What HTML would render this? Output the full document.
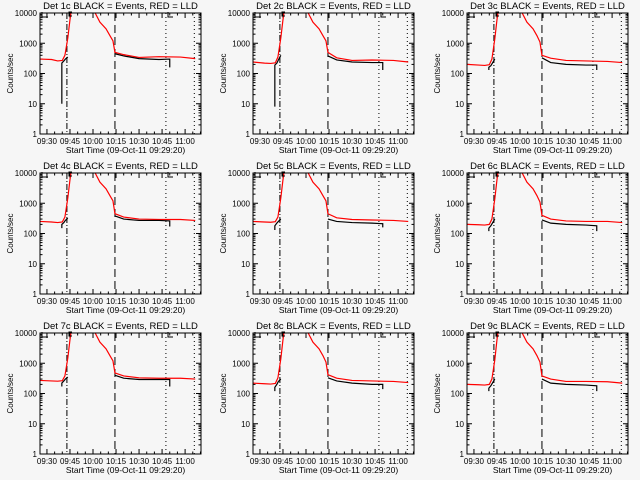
<!DOCTYPE html>
<html><head><meta charset="utf-8"><style>
html,body{margin:0;padding:0;background:#f6f6f6;}
svg{display:block;font-family:"Liberation Sans",sans-serif;}
</style></head><body>
<svg id="chart" width="640" height="480" viewBox="0 0 640 480"></svg>
<script>
const detNames = ["1c","2c","3c","4c","5c","6c","7c","8c","9c"];
const tickLabels = ["09:30","09:45","10:00","10:15","10:30","10:45","11:00"];
const tickMinutes = [0,15,30,45,60,75,90];
const yTickLabels = ["1","10","100","1000","10000"];
const yTickValues = [1,10,100,1000,10000];
const redT = [-4.5,3,7,10,11.7,13.6,15,16.5,30.6,34.5,38.5,41,43,44.3,50,60,73,87,96.6];
const red1 = [300,290,260,270,400,1500,6000,20000,12000,5000,3000,1800,1200,500,420,340,360,350,310];
const red2 = [240,220,215,225,350,1500,6000,20000,12000,5000,3000,1800,1200,500,330,270,280,270,240];
const red3 = [200,190,185,195,300,1400,6000,20000,12000,5000,3000,1800,1100,400,320,270,260,250,230];
const red4 = [250,240,230,240,350,1500,6000,20000,12000,5000,3000,1800,1200,450,350,300,290,290,270];
const red5 = [250,240,235,245,350,1500,6000,20000,12000,5000,3000,1800,1200,450,330,290,280,270,250];
const red6 = [200,195,190,200,300,1400,6000,20000,12000,5000,3000,1800,1100,400,300,260,250,250,230];
const red7 = [270,260,255,265,380,1500,6000,20000,12000,5000,3000,1800,1200,480,380,330,320,320,300];
const red8 = [220,210,205,215,330,1400,6000,20000,12000,5000,3000,1800,1100,420,320,270,260,250,230];
const red9 = [200,195,190,200,300,1300,6000,20000,12000,5000,3000,1800,1100,380,300,250,250,245,220];
const blackT1 = [9.7,9.7,11,12,13.6];
const blackT2 = [44.3,50,60,73,80,80];
const bPre1 = [10,220,260,300,350];
const bPre2 = [8,190,220,280,400];
const bPre3 = [130,160,180,220,300];
const bPre4 = [150,200,230,270,320];
const bPre5 = [130,180,220,250,300];
const bPre6 = [120,150,180,220,300];
const bPre7 = [170,220,260,300,350];
const bPre8 = [120,160,200,250,300];
const bPre9 = [120,150,180,220,300];
const bPost1 = [450,380,310,290,300,160];
const bPost2 = [380,280,240,230,230,130];
const bPost3 = [330,230,200,190,190,130];
const bPost4 = [380,300,270,270,260,170];
const bPost5 = [300,250,230,220,210,160];
const bPost6 = [280,220,200,190,180,120];
const bPost7 = [400,320,290,290,290,170];
const bPost8 = [330,260,220,200,200,140];
const bPost9 = [300,220,200,190,180,120];
const reds = [red1,red2,red3,red4,red5,red6,red7,red8,red9];
const bPres = [bPre1,bPre2,bPre3,bPre4,bPre5,bPre6,bPre7,bPre8,bPre9];
const bPosts = [bPost1,bPost2,bPost3,bPost4,bPost5,bPost6,bPost7,bPost8,bPost9];
const markerMinutes = [13,44.3,77.5,96];
const markerDash = ["6,2,1,2","8,4","1,3","1,3"];

const NS = "http://www.w3.org/2000/svg";
const svg = document.getElementById("chart");
function mk(tag, attrs, parent){const e=document.createElementNS(NS,tag);for(const k in attrs)e.setAttribute(k,attrs[k]);(parent||svg).appendChild(e);return e;}

for(let p=0;p<9;p++){
  const ox = Math.round((p%3)*213.33), oy=Math.floor(p/3)*160;
  const L=ox+40,R=ox+201,T=oy+13,B=oy+134;
  const xs = t => ox + 93 + (t-30)*1.535;
  const ys = v => B - (Math.log10(v))*(B-T)/4;
  const g = mk("g",{});
  
  
  const cid="clip"+p;
  const cp=mk("clipPath",{id:cid},g); mk("rect",{x:L,y:T,width:R-L,height:B-T},cp);
  const title=mk("text",{x:(L+R)/2,y:oy+9,"text-anchor":"middle","font-size":"9.5"},g);
  title.textContent="Det "+detNames[p]+" BLACK = Events, RED = LLD";
  
  
  const yl=mk("text",{x:0,y:0,"text-anchor":"middle","font-size":"8",transform:"translate("+(ox+13)+","+((T+B)/2)+") rotate(-90)"},g);
  yl.textContent="Counts/sec";
  
  
  const xl=mk("text",{x:(L+R)/2+5,y:oy+153,"text-anchor":"middle","font-size":"8.5"},g);
  xl.textContent="Start Time (09-Oct-11 09:29:20)";
  
  
  // y ticks
  yTickValues.forEach((v,i)=>{
    const y=ys(v);
    mk("line",{x1:L,x2:L+5,y1:y,y2:y,stroke:"#000"},g);
    mk("line",{x1:R,x2:R-5,y1:y,y2:y,stroke:"#000"},g);
    const t=mk("text",{x:L-3,y:y+3,"text-anchor":"end","font-size":"8"},g);
    t.textContent=yTickLabels[i];
    
    
    if(i<4){for(let m=2;m<10;m++){const yy=ys(v*m);
      mk("line",{x1:L,x2:L+2.5,y1:yy,y2:yy,stroke:"#000"},g);
      mk("line",{x1:R,x2:R-2.5,y1:yy,y2:yy,stroke:"#000"},g);}}
  });
  tickMinutes.forEach((m,i)=>{
    const x=xs(m);
    mk("line",{x1:x,x2:x,y1:B,y2:B-5,stroke:"#000"},g);
    mk("line",{x1:x,x2:x,y1:T,y2:T+5,stroke:"#000"},g);
    for(let k=1;k<3;k++){const xx=xs(m+k*5);if(xx<R){mk("line",{x1:xx,x2:xx,y1:B,y2:B-2.5,stroke:"#000"},g);mk("line",{x1:xx,x2:xx,y1:T,y2:T+2.5,stroke:"#000"},g);}}
    const t=mk("text",{x:x,y:B+10,"text-anchor":"middle","font-size":"8"},g);
    t.textContent=tickLabels[i];
    
    
  });
  const cg=mk("g",{"clip-path":"url(#"+cid+")"},g);
  markerMinutes.forEach((m,i)=>{
    const ln=mk("line",{x1:xs(m),x2:xs(m),y1:T,y2:B,stroke:"#000","stroke-dasharray":markerDash[i]},cg);
    
    
  });
  const rp=mk("polyline",{points:redT.map((t,i)=>xs(t)+","+ys(reds[p][i])).join(" "),fill:"none",stroke:"#ff0000","stroke-width":"1.2"},cg);
  
  
  const b1=mk("polyline",{points:blackT1.map((t,i)=>xs(t)+","+ys(bPres[p][i])).join(" "),fill:"none",stroke:"#000","stroke-width":"1.2"},cg);
  
  
  const b2=mk("polyline",{points:blackT2.map((t,i)=>xs(t)+","+ys(bPosts[p][i])).join(" "),fill:"none",stroke:"#000","stroke-width":"1.2"},cg);
  
  
  // bracket markers
  mk("polyline",{points:(L+2)+","+(T+5)+" "+(L+2)+","+(T)+" M",fill:"none",stroke:"#000"},g);
  mk("path",{d:"M"+(L+8)+" "+(T+4)+" H"+(L+2)+" V"+(T-1)+" M"+(R-28)+" "+(T+4)+" H"+(R-33)+" V"+(T-1)+" M"+(ox+72)+" "+(T-1)+" h-3 v4 h3",fill:"none",stroke:"#000"},g);
  const fr=mk("rect",{x:L,y:T,width:R-L,height:B-T,fill:"none",stroke:"#000"},g);
  
  
}
</script>
</body></html>
